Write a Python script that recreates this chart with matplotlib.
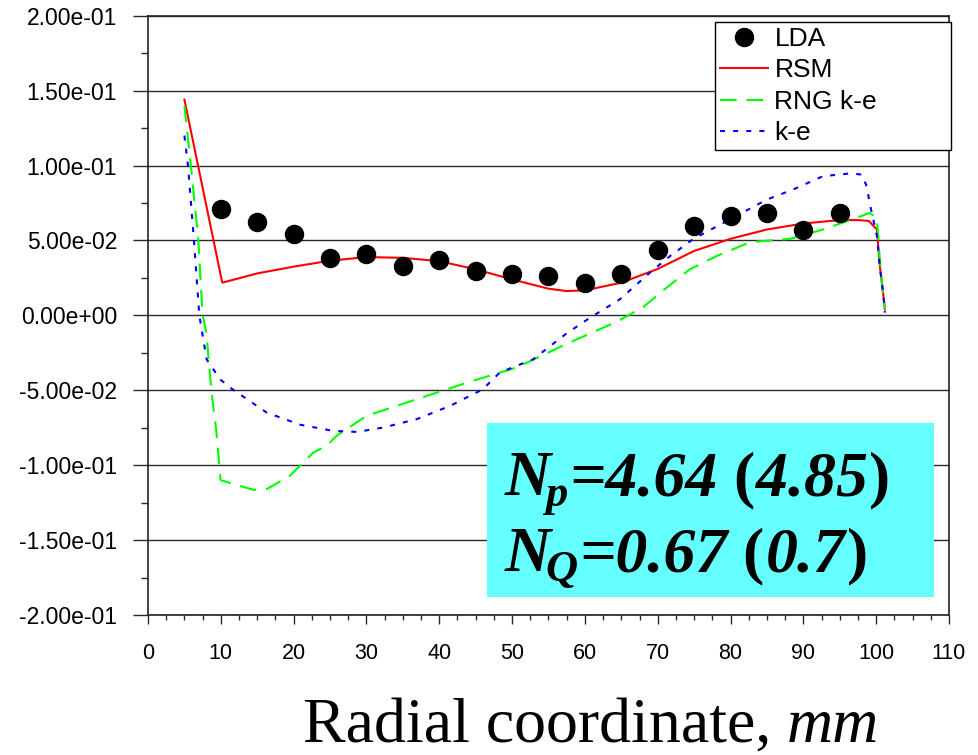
import numpy as np
import matplotlib
matplotlib.use("Agg")
import matplotlib.pyplot as plt
from matplotlib.ticker import MultipleLocator, FixedLocator, FixedFormatter
from matplotlib.transforms import offset_copy
from matplotlib.patches import Rectangle

# measured points (LDA)
lda_x = [10, 15, 20, 25, 30, 35, 40, 45, 50, 55, 60, 65, 70, 75, 80, 85, 90, 95]
lda_y = [0.071, 0.0625, 0.054, 0.0383, 0.0412, 0.033, 0.0369, 0.0296, 0.0273,
         0.0262, 0.0218, 0.0273, 0.0437, 0.0598, 0.0662, 0.068, 0.0573, 0.068]

# RSM model
rsm_x = [5, 10.2, 15, 20, 25, 30, 35, 40, 45, 50, 55, 57.5, 60, 65, 70, 75, 80,
         85, 90, 95, 97.5, 99, 100.1, 100.5, 101, 101.2]
rsm_y = [0.144, 0.0218, 0.028, 0.0325, 0.0365, 0.0389, 0.0384, 0.0362, 0.0307,
         0.024, 0.0178, 0.0162, 0.0167, 0.0218, 0.031, 0.043, 0.0511, 0.0573,
         0.0613, 0.0636, 0.0636, 0.063, 0.0573, 0.033, 0.013, 0.004]

# RNG k-e model
rng_x = [5, 5.9, 6.9, 7.5, 8.0, 8.7, 9.4, 9.97, 14.5, 16.3, 19.5, 22.7, 24.5,
         25.9, 30, 36.9, 43.8, 50.6, 57.5, 64.5, 68, 71.2, 74.4, 78.1, 82.7,
         88.2, 92.7, 97.3, 99.1, 100.1, 100.5, 101, 101.2]
rng_y = [0.14, 0.0995, 0.0507, 0.0, -0.011, -0.05, -0.078, -0.110, -0.1165,
         -0.116, -0.107, -0.0916, -0.0871, -0.0804, -0.0671, -0.056, -0.0449,
         -0.0349, -0.019, -0.004, 0.0055, 0.0184, 0.0307, 0.0396, 0.0489,
         0.0511, 0.0573, 0.0651, 0.0684, 0.065, 0.037, 0.011, 0.004]

# standard k-e model
ke_x = [5, 5.5, 6.3, 7.05, 8.05, 9.9, 11.5, 16.3, 20.9, 25.4, 28.7, 32.3, 36.9,
        41.5, 46, 48.3, 52.9, 57.5, 60.7, 64.8, 68.9, 71.7, 74.9, 79.9, 85,
        88.6, 92.7, 96.4, 98, 98.7, 99.1, 100.1, 100.5, 101, 101.2]
ke_y = [0.12, 0.0995, 0.0507, 0.0, -0.0293, -0.0427, -0.049, -0.0649, -0.073,
        -0.0771, -0.0778, -0.0749, -0.0693, -0.0604, -0.0493, -0.0382, -0.0293,
        -0.012, -0.0016, 0.0107, 0.0284, 0.0396, 0.051, 0.064, 0.0773, 0.084,
        0.0929, 0.0947, 0.094, 0.0862, 0.0751, 0.0529, 0.0329, 0.0129, 0.0018]

y_ticks = [-0.2, -0.15, -0.1, -0.05, 0.0, 0.05, 0.1, 0.15, 0.2]
y_labels = ["-2.00e-01", "-1.50e-01", "-1.00e-01", "-5.00e-02", "0.00e+00",
            "5.00e-02", "1.00e-01", "1.50e-01", "2.00e-01"]

SANS = "Liberation Sans"
SERIF = "Liberation Serif"
GRID = "#2a2a2a"

fig = plt.figure(figsize=(9.79, 7.55), dpi=100)
ax = fig.add_axes([0.15117, 0.18543, 0.81818, 0.79377])

ax.plot(lda_x, lda_y, "o", color="black", ms=13, ls="none", label="LDA", zorder=4)
ax.plot(rsm_x, rsm_y, color="#ff0000", lw=1.5, label="RSM", zorder=3)
ax.plot(rng_x, rng_y, color="#00ff00", lw=1.5, ls=(0, (8, 4.7)), label="RNG k-e", zorder=3)
ax.plot(ke_x, ke_y, color="#0000ff", lw=1.5, ls=(0, (2.4, 3.9)), label="k-e", zorder=3)

ax.set_xlim(0, 110)
ax.set_ylim(-0.2, 0.2)
ax.xaxis.set_major_locator(MultipleLocator(10))
ax.xaxis.set_minor_locator(MultipleLocator(2.5))
ax.yaxis.set_major_locator(FixedLocator(y_ticks))
ax.yaxis.set_major_formatter(FixedFormatter(y_labels))
ax.yaxis.set_minor_locator(MultipleLocator(0.025))

ax.tick_params(axis="y", which="major", length=10.8, width=1.0, color=GRID,
               pad=11.5, labelsize=16.5)
ax.tick_params(axis="y", which="minor", length=5, width=1.0, color=GRID)
ax.tick_params(axis="x", which="major", length=6.5, width=1.0, color=GRID,
               pad=14, labelsize=15.5)
ax.tick_params(axis="x", which="minor", length=3.6, width=1.0, color=GRID)
for lab in ax.get_xticklabels() + ax.get_yticklabels():
    lab.set_family(SANS)

ax.yaxis.grid(True, which="major", color=GRID, lw=1.0)
ax.set_axisbelow(True)
for sp in ax.spines.values():
    sp.set_color("#222222")
    sp.set_linewidth(1.2)

leg = ax.legend(loc="upper left", bbox_to_anchor=(0.708, 0.99, 0.2946, 0.0),
                mode="expand", prop={"family": SANS, "size": 19},
                fancybox=False, framealpha=1, edgecolor="black",
                borderpad=0.2, labelspacing=0.28, handlelength=1.8,
                handletextpad=0.25, borderaxespad=0, numpoints=1)
leg.get_frame().set_linewidth(1.0)
leg.set_zorder(6)

# cyan info box
ax.add_patch(Rectangle((0.4228, 0.0305), 0.5585, 0.2894, transform=ax.transAxes,
                       facecolor="#66ffff", edgecolor="none", zorder=5))

renderer = fig.canvas.get_renderer()


def run(trans, x, y, pieces, family):
    # pieces: text, style, weight, size, dy (pt), gap after (pt)
    dx = 0.0
    for s, style, weight, size, dy, gap in pieces:
        tr = offset_copy(trans, fig=fig, x=dx, y=dy, units="points")
        t = fig.text(x, y, s, transform=tr, fontsize=size, fontstyle=style,
                     fontweight=weight, family=family, va="baseline",
                     ha="left", zorder=7)
        w = t.get_window_extent(renderer).width * 72.0 / fig.dpi
        dx += w + gap


BIG = 46
SUB = 32
run(ax.transAxes, 0.4457, 0.2002, [
    ("N", "italic", "bold", BIG, 0, -4),
    ("p", "italic", "bold", SUB, -8, 1),
    ("=4.64", "italic", "bold", BIG, 0, 11),
    ("(", "normal", "bold", BIG, 0, 1),
    ("4.85", "italic", "bold", BIG, 0, 1),
    (")", "normal", "bold", BIG, 0, 0),
], SERIF)
run(ax.transAxes, 0.4457, 0.0734, [
    ("N", "italic", "bold", BIG, 0, -4),
    ("Q", "italic", "bold", SUB, -7, 1),
    ("=0.67", "italic", "bold", BIG, 0, 11),
    ("(", "normal", "bold", BIG, 0, 1),
    ("0.7", "italic", "bold", BIG, 0, 1),
    (")", "normal", "bold", BIG, 0, 0),
], SERIF)

# axis title
run(fig.transFigure, 303 / 979, 13 / 755, [
    ("Radial coordinate,", "normal", "normal", 46, 0, 11),
    ("mm", "italic", "normal", 46, 0, 0),
], SERIF)

fig.savefig("out.png", dpi=100, facecolor="white")
